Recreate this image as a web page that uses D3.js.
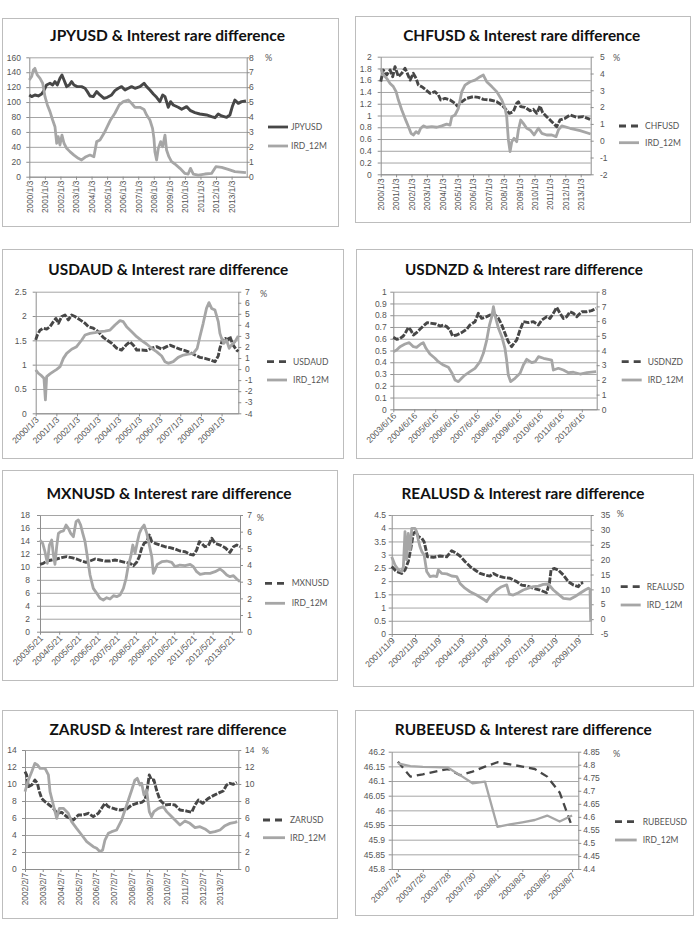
<!DOCTYPE html>
<html>
<head>
<meta charset="utf-8">
<script src="https://cdn.jsdelivr.net/npm/d3@7"></script>
<style>
  body { margin: 0; background: #fff; }
  svg { display: block; font-family: Lato, "Open Sans", sans-serif; }
</style>
</head>
<body>
<svg id="chart" width="697" height="926"></svg>
<script>
// ---- values: [fractional year, value] ----
const jpyusd = [[2000.00,109.5],[2000.15,107.3],[2000.36,109.5],[2000.58,108.2],[2000.79,110.9],[2000.96,116.2],[2001.11,122.9],[2001.33,125.2],[2001.50,122.9],[2001.65,127.4],[2001.80,122.9],[2001.97,131.9],[2002.10,136.3],[2002.23,129.6],[2002.40,120.7],[2002.57,122.9],[2002.72,127.4],[2002.87,122.9],[2003.08,120.7],[2003.36,120.7],[2003.58,118.5],[2003.73,114.0],[2003.90,108.2],[2004.11,107.3],[2004.33,114.0],[2004.54,109.5],[2004.80,105.0],[2005.01,106.4],[2005.29,109.5],[2005.50,115.3],[2005.72,118.5],[2005.93,120.7],[2006.15,116.2],[2006.36,118.5],[2006.57,120.7],[2006.79,118.5],[2007.11,120.7],[2007.37,125.2],[2007.54,120.7],[2007.75,116.2],[2007.97,110.9],[2008.18,106.4],[2008.39,100.6],[2008.57,109.5],[2008.72,107.3],[2008.93,93.0],[2009.08,100.6],[2009.25,96.1],[2009.57,93.0],[2009.79,90.3],[2010.11,93.9],[2010.36,88.5],[2010.64,85.8],[2010.96,84.0],[2011.39,82.7],[2011.71,80.5],[2011.93,79.1],[2012.14,84.0],[2012.36,81.4],[2012.68,79.6],[2012.89,82.7],[2013.06,94.8],[2013.21,102.8],[2013.43,98.3],[2013.64,100.6],[2013.92,101.5]];
const jpyIrd = [[2000.00,6.48],[2000.15,6.71],[2000.26,7.15],[2000.36,7.26],[2000.51,6.82],[2000.69,6.59],[2000.86,6.26],[2001.01,5.36],[2001.16,4.81],[2001.33,4.36],[2001.50,3.80],[2001.65,3.35],[2001.76,2.24],[2001.86,2.68],[2001.97,2.12],[2002.10,2.79],[2002.23,2.24],[2002.40,1.90],[2002.61,1.68],[2002.87,1.45],[2003.15,1.23],[2003.36,1.12],[2003.64,1.34],[2003.90,1.45],[2004.15,1.34],[2004.33,2.35],[2004.54,2.46],[2004.80,2.91],[2005.01,3.35],[2005.22,3.80],[2005.50,4.25],[2005.78,4.81],[2006.04,5.03],[2006.36,5.14],[2006.57,4.92],[2006.79,4.65],[2007.11,4.65],[2007.37,4.51],[2007.54,4.13],[2007.75,3.80],[2007.92,3.24],[2008.01,2.57],[2008.07,1.68],[2008.18,1.12],[2008.29,1.90],[2008.44,2.35],[2008.57,2.01],[2008.72,2.79],[2008.82,1.79],[2008.97,1.34],[2009.14,1.01],[2009.36,0.85],[2009.68,0.56],[2010.00,0.22],[2010.21,0.18],[2010.36,0.56],[2010.54,0.18],[2010.86,0.11],[2011.28,0.18],[2011.71,0.22],[2011.99,0.67],[2012.36,0.63],[2012.78,0.49],[2013.21,0.34],[2013.92,0.27]];

const chfusd = [[2000.00,1.575],[2000.17,1.773],[2000.39,1.688],[2000.61,1.773],[2000.78,1.660],[2000.93,1.830],[2001.15,1.660],[2001.37,1.717],[2001.58,1.802],[2001.73,1.717],[2001.91,1.603],[2002.12,1.717],[2002.30,1.632],[2002.45,1.518],[2002.67,1.490],[2002.95,1.433],[2003.21,1.377],[2003.53,1.405],[2003.75,1.349],[2003.90,1.264],[2004.18,1.292],[2004.51,1.264],[2004.83,1.207],[2004.98,1.162],[2005.27,1.235],[2005.59,1.292],[2006.02,1.320],[2006.35,1.309],[2006.67,1.275],[2007.11,1.264],[2007.54,1.235],[2007.87,1.179],[2008.08,1.122],[2008.36,1.037],[2008.62,1.065],[2008.84,1.207],[2008.95,1.235],[2009.10,1.150],[2009.38,1.139],[2009.71,1.082],[2009.92,1.105],[2010.14,1.037],[2010.36,1.162],[2010.53,1.048],[2010.79,0.980],[2011.12,0.895],[2011.44,0.810],[2011.66,0.924],[2011.98,0.952],[2012.31,1.009],[2012.74,0.969],[2013.17,0.980],[2013.61,0.935]];
const chfIrd = [[2000.00,4.31],[2000.17,3.91],[2000.39,3.71],[2000.61,3.41],[2000.82,3.22],[2001.00,2.92],[2001.15,2.42],[2001.37,1.83],[2001.58,1.33],[2001.80,0.84],[2001.97,0.44],[2002.12,0.34],[2002.30,0.54],[2002.45,0.44],[2002.60,0.74],[2002.77,0.88],[2002.99,0.80],[2003.32,0.84],[2003.64,0.80],[2003.97,0.88],[2004.29,0.99],[2004.51,0.93],[2004.62,1.43],[2004.83,1.53],[2005.05,1.93],[2005.27,2.92],[2005.48,3.31],[2005.81,3.51],[2006.13,3.61],[2006.46,3.81],[2006.67,3.91],[2006.89,3.51],[2007.22,3.22],[2007.54,2.92],[2007.87,2.42],[2008.08,1.93],[2008.19,1.43],[2008.30,0.04],[2008.41,-0.65],[2008.52,-0.06],[2008.67,0.14],[2008.84,-0.06],[2008.95,0.64],[2009.10,1.23],[2009.27,1.03],[2009.49,0.74],[2009.71,0.64],[2009.97,0.34],[2010.25,0.74],[2010.47,0.44],[2010.79,0.34],[2011.12,0.34],[2011.40,0.24],[2011.55,0.64],[2011.77,0.88],[2012.31,0.74],[2012.96,0.60],[2013.65,0.40]];

const usdaud = [[2000.00,1.51],[2000.08,1.61],[2000.21,1.71],[2000.37,1.75],[2000.53,1.73],[2000.69,1.78],[2000.85,1.88],[2000.98,1.95],[2001.10,1.85],[2001.26,1.99],[2001.42,2.02],[2001.58,1.92],[2001.74,2.02],[2001.90,1.99],[2002.15,1.92],[2002.39,1.85],[2002.55,1.78],[2002.79,1.75],[2003.03,1.68],[2003.27,1.56],[2003.44,1.51],[2003.68,1.44],[2003.92,1.34],[2004.16,1.30],[2004.37,1.40],[2004.56,1.47],[2004.73,1.40],[2004.89,1.30],[2005.13,1.30],[2005.37,1.29],[2005.61,1.34],[2005.85,1.37],[2006.10,1.32],[2006.34,1.37],[2006.50,1.40],[2006.74,1.36],[2006.98,1.32],[2007.23,1.29],[2007.47,1.25],[2007.71,1.20],[2007.95,1.15],[2008.19,1.13],[2008.44,1.10],[2008.68,1.06],[2008.84,1.18],[2008.92,1.34],[2009.05,1.52],[2009.16,1.54],[2009.32,1.51],[2009.40,1.58],[2009.56,1.40],[2009.73,1.30],[2009.81,1.27]];
const audIrd = [[2000.00,-0.08],[2000.13,-0.38],[2000.29,-0.62],[2000.40,-0.83],[2000.47,-2.79],[2000.53,-0.68],[2000.69,-0.44],[2000.85,-0.23],[2001.02,-0.02],[2001.18,0.22],[2001.34,0.97],[2001.50,1.42],[2001.74,1.79],[2001.98,2.03],[2002.23,2.63],[2002.39,3.08],[2002.63,3.23],[2002.87,3.29],[2003.11,3.38],[2003.35,3.44],[2003.60,3.53],[2003.84,3.99],[2004.08,4.38],[2004.24,4.29],[2004.40,3.84],[2004.65,3.38],[2004.89,2.93],[2005.13,2.57],[2005.37,2.27],[2005.61,1.88],[2005.85,1.58],[2006.10,1.18],[2006.26,0.67],[2006.42,0.52],[2006.66,0.67],[2006.90,1.06],[2007.15,1.27],[2007.39,1.36],[2007.63,1.42],[2007.82,1.88],[2007.95,2.93],[2008.11,4.14],[2008.27,5.49],[2008.39,6.01],[2008.52,5.49],[2008.68,5.34],[2008.84,4.29],[2008.92,3.23],[2009.00,2.78],[2009.11,2.33],[2009.24,2.63],[2009.37,1.88],[2009.48,2.18],[2009.65,2.48],[2009.81,2.99]];

const usdnzd = [[2003.46,0.612],[2003.62,0.595],[2003.78,0.603],[2003.94,0.623],[2004.07,0.660],[2004.18,0.697],[2004.29,0.674],[2004.42,0.632],[2004.57,0.652],[2004.73,0.680],[2004.89,0.708],[2005.08,0.737],[2005.29,0.731],[2005.50,0.725],[2005.69,0.708],[2005.85,0.717],[2006.01,0.703],[2006.17,0.674],[2006.29,0.623],[2006.49,0.632],[2006.72,0.652],[2006.96,0.680],[2007.12,0.717],[2007.36,0.745],[2007.52,0.816],[2007.68,0.773],[2007.92,0.788],[2008.08,0.802],[2008.24,0.816],[2008.48,0.773],[2008.64,0.717],[2008.79,0.646],[2008.95,0.575],[2009.11,0.533],[2009.22,0.561],[2009.35,0.589],[2009.51,0.674],[2009.67,0.745],[2009.91,0.737],[2010.15,0.745],[2010.39,0.717],[2010.55,0.759],[2010.79,0.788],[2010.94,0.773],[2011.10,0.816],[2011.26,0.867],[2011.42,0.816],[2011.58,0.773],[2011.74,0.788],[2011.90,0.830],[2012.06,0.816],[2012.22,0.788],[2012.46,0.830],[2012.70,0.830],[2012.93,0.839],[2013.14,0.858]];
const nzdIrd = [[2003.46,3.92],[2003.62,4.03],[2003.78,4.26],[2004.02,4.44],[2004.22,4.53],[2004.42,4.26],[2004.57,4.21],[2004.77,4.44],[2004.89,4.53],[2005.02,4.15],[2005.21,3.76],[2005.45,3.47],[2005.61,3.24],[2005.85,3.01],[2006.09,2.86],[2006.25,2.49],[2006.41,1.99],[2006.57,1.88],[2006.72,2.11],[2006.88,2.33],[2007.12,2.56],[2007.36,2.79],[2007.60,3.24],[2007.76,3.81],[2007.92,4.71],[2008.05,5.73],[2008.16,6.30],[2008.24,6.98],[2008.33,6.30],[2008.48,5.51],[2008.64,4.94],[2008.79,4.15],[2008.87,3.35],[2008.95,2.33],[2009.06,1.88],[2009.27,2.11],[2009.51,2.45],[2009.67,3.01],[2009.83,3.40],[2010.07,3.17],[2010.23,3.24],[2010.39,3.58],[2010.63,3.47],[2010.86,3.40],[2011.02,3.35],[2011.10,2.67],[2011.34,2.79],[2011.58,2.67],[2011.82,2.49],[2012.06,2.52],[2012.38,2.40],[2012.70,2.49],[2013.14,2.56]];

const mxnusd = [[2003.39,10.39],[2003.56,10.54],[2003.74,10.90],[2004.00,11.06],[2004.26,11.21],[2004.52,11.42],[2004.78,11.57],[2005.04,11.42],[2005.30,11.21],[2005.56,10.90],[2005.79,10.70],[2006.00,10.90],[2006.26,11.21],[2006.52,11.06],[2006.78,10.90],[2007.04,10.90],[2007.30,11.06],[2007.56,10.90],[2007.82,10.70],[2008.09,10.54],[2008.26,10.18],[2008.43,10.70],[2008.57,11.57],[2008.69,12.86],[2008.82,13.63],[2008.96,13.89],[2009.09,14.91],[2009.22,13.89],[2009.39,13.63],[2009.65,13.37],[2009.91,13.11],[2010.17,12.96],[2010.43,12.75],[2010.69,12.45],[2010.96,12.34],[2011.22,11.93],[2011.39,11.83],[2011.56,12.60],[2011.70,13.89],[2011.82,13.63],[2011.99,13.11],[2012.17,13.27],[2012.35,14.40],[2012.52,13.63],[2012.78,13.37],[2013.04,12.96],[2013.30,12.24],[2013.48,13.11],[2013.65,13.37],[2013.82,13.11]];
const mxnIrd = [[2003.39,5.50],[2003.53,5.30],[2003.65,4.80],[2003.77,4.10],[2003.88,5.20],[2004.00,5.50],[2004.09,4.60],[2004.17,4.04],[2004.26,5.10],[2004.35,5.90],[2004.47,6.00],[2004.61,6.04],[2004.75,6.40],[2004.87,6.20],[2004.99,5.90],[2005.13,5.70],[2005.27,6.60],[2005.39,6.70],[2005.51,6.40],[2005.62,5.90],[2005.74,5.40],[2005.86,4.50],[2006.00,3.40],[2006.17,2.60],[2006.35,2.30],[2006.52,2.00],[2006.69,1.90],[2006.87,2.04],[2007.04,1.96],[2007.22,2.16],[2007.39,2.10],[2007.56,2.20],[2007.74,2.60],[2007.88,3.20],[2008.00,4.00],[2008.12,4.50],[2008.23,5.20],[2008.35,4.70],[2008.47,5.40],[2008.57,5.90],[2008.69,6.20],[2008.82,6.40],[2008.96,5.90],[2009.09,5.20],[2009.22,4.50],[2009.30,3.50],[2009.39,3.70],[2009.51,4.04],[2009.74,4.20],[2010.00,4.24],[2010.26,4.16],[2010.43,3.90],[2010.69,4.00],[2010.96,3.96],[2011.22,4.04],[2011.39,3.90],[2011.56,3.60],[2011.74,3.44],[2012.00,3.50],[2012.26,3.50],[2012.52,3.60],[2012.78,3.76],[2012.96,3.60],[2013.13,3.40],[2013.30,3.30],[2013.48,3.36],[2013.65,3.16],[2013.82,3.00]];

const realusd = [[2001.86,2.55],[2002.07,2.36],[2002.29,2.29],[2002.43,2.42],[2002.57,2.74],[2002.67,3.18],[2002.79,3.81],[2002.90,3.87],[2003.00,3.68],[2003.15,3.62],[2003.25,3.49],[2003.33,3.18],[2003.39,2.92],[2003.65,2.90],[2003.93,2.95],[2004.22,2.92],[2004.43,3.15],[2004.57,3.08],[2004.79,2.95],[2005.00,2.74],[2005.22,2.55],[2005.43,2.42],[2005.65,2.29],[2005.86,2.23],[2006.07,2.19],[2006.22,2.29],[2006.43,2.19],[2006.65,2.14],[2006.93,2.11],[2007.22,1.98],[2007.43,1.85],[2007.65,1.82],[2007.93,1.73],[2008.22,1.66],[2008.50,1.56],[2008.62,1.92],[2008.69,2.42],[2008.82,2.48],[2009.00,2.42],[2009.22,2.23],[2009.43,1.98],[2009.65,1.85],[2009.86,1.79],[2009.96,1.92],[2010.07,1.94]];
const realIrd = [[2001.86,21.0],[2002.00,18.2],[2002.15,16.5],[2002.29,16.0],[2002.36,17.6],[2002.43,29.4],[2002.50,19.9],[2002.57,28.8],[2002.65,23.2],[2002.72,30.5],[2002.86,30.5],[2002.93,29.4],[2003.00,26.6],[2003.07,24.4],[2003.15,22.7],[2003.25,21.6],[2003.36,16.0],[2003.50,14.3],[2003.65,14.5],[2003.79,14.3],[2003.86,16.5],[2004.00,15.4],[2004.22,15.2],[2004.43,14.5],[2004.65,14.3],[2004.79,12.0],[2005.00,10.4],[2005.22,9.2],[2005.50,8.1],[2005.79,6.7],[2005.93,5.9],[2006.07,7.6],[2006.36,9.8],[2006.57,10.9],[2006.79,11.5],[2006.90,8.4],[2007.07,8.1],[2007.29,8.9],[2007.50,9.8],[2007.72,10.4],[2007.93,10.9],[2008.15,11.1],[2008.36,11.7],[2008.57,11.8],[2008.79,9.8],[2009.00,8.4],[2009.22,7.0],[2009.50,6.7],[2009.72,7.6],[2009.93,8.7],[2010.15,9.8],[2010.29,10.4],[2010.36,10.0],[2010.39,-0.8]];

const zarusd = [[2002.10,11.45],[2002.19,11.06],[2002.29,9.69],[2002.48,9.88],[2002.66,10.47],[2002.80,10.08],[2002.91,9.10],[2003.04,8.31],[2003.23,7.92],[2003.47,7.53],[2003.70,7.14],[2003.92,6.55],[2004.17,6.67],[2004.45,6.16],[2004.83,5.76],[2005.11,6.35],[2005.39,6.35],[2005.67,6.55],[2005.95,6.16],[2006.24,6.55],[2006.42,7.14],[2006.61,7.73],[2006.80,7.33],[2007.18,7.06],[2007.46,6.94],[2007.83,7.06],[2008.12,7.53],[2008.40,7.73],[2008.68,7.84],[2008.87,8.12],[2009.00,9.49],[2009.11,11.06],[2009.24,10.47],[2009.37,10.47],[2009.52,9.29],[2009.71,8.12],[2009.99,7.53],[2010.28,7.61],[2010.56,7.53],[2010.84,6.94],[2011.22,6.82],[2011.50,6.67],[2011.69,7.53],[2011.88,8.12],[2012.12,7.73],[2012.44,8.31],[2012.72,8.63],[2013.10,9.02],[2013.28,9.18],[2013.47,9.88],[2013.66,10.08],[2013.85,9.96],[2014.04,10.20]];
const zarIrd = [[2002.10,9.10],[2002.29,10.47],[2002.48,11.45],[2002.66,12.43],[2002.80,12.24],[2002.95,11.84],[2003.23,11.84],[2003.42,11.06],[2003.51,9.10],[2003.70,7.53],[2003.89,5.96],[2004.04,7.14],[2004.26,7.14],[2004.54,6.55],[2004.73,5.57],[2005.01,4.78],[2005.30,4.00],[2005.58,3.22],[2005.95,2.63],[2006.14,2.43],[2006.33,2.04],[2006.48,2.24],[2006.61,3.41],[2006.80,4.20],[2006.99,4.39],[2007.27,4.59],[2007.55,5.76],[2007.74,6.94],[2007.93,8.12],[2008.12,9.29],[2008.30,10.47],[2008.43,10.67],[2008.58,9.88],[2008.68,10.08],[2008.81,8.71],[2008.96,9.29],[2009.11,6.75],[2009.24,6.16],[2009.37,6.75],[2009.62,7.14],[2009.90,7.33],[2010.09,6.75],[2010.28,6.35],[2010.56,5.76],[2010.84,5.18],[2011.12,5.65],[2011.40,5.37],[2011.69,4.86],[2011.97,4.98],[2012.25,4.71],[2012.53,4.27],[2012.81,4.39],[2013.10,4.59],[2013.38,5.10],[2013.66,5.37],[2013.94,5.49],[2014.07,5.57]];

// RUBEEUSD is daily, on a category axis
const rubDates = ["2003/7/24","2003/7/25","2003/7/26","2003/7/27","2003/7/28","2003/7/29","2003/7/30","2003/7/31","2003/8/1","2003/8/2","2003/8/3","2003/8/4","2003/8/5","2003/8/6","2003/8/7"];
const rubeeusd = [46.166,46.115,46.123,46.132,46.141,46.120,46.132,46.149,46.164,46.157,46.149,46.141,46.115,46.061,45.944];
const rubIrd = [4.805,4.795,4.792,4.791,4.789,4.760,4.729,4.735,4.562,4.571,4.579,4.588,4.605,4.582,4.605];

// ---- tick labels ----
const jpyLabels = d3.range(2000, 2014).map(y => y + "/1/3");
const chfLabels = d3.range(2000, 2014).map(y => y + "/1/3");
const audLabels = d3.range(2000, 2010).map(y => y + "/1/3");
const nzdLabels = d3.range(2003, 2013).map(y => y + "/6/16");
const mxnLabels = d3.range(2003, 2014).map(y => y + "/5/21");
const realLabels = d3.range(2001, 2010).map(y => y + "/11/9");
const zarLabels = d3.range(2002, 2014).map(y => y + "/2/7");
const rubLabels = rubDates.filter((d, i) => i % 2 === 0);

const svg = d3.select("#chart");
const fxColor = "#474747", irdColor = "#a6a6a6", gridColor = "#8e8e8e", textColor = "#555";

function ticks([a, b, s]) {
  const n = Math.round((b - a) / s);
  return d3.range(n + 1).map(i => +(a + i * s).toFixed(4));
}
const fmt = v => String(+v.toFixed(2));

const panels = [
  {name: "JPYUSD", fx: jpyusd, ird: jpyIrd, dashed: false,
   frame: [2, 18, 338, 226], title: [167.5, 40.5, 235], plot: [29.3, 57.3, 246.7, 176.7],
   xDomain: [2000, 2013.97], xStart: 2000, labels: jpyLabels, rot: -90,
   left: [0, 160, 20], right: [0, 8, 1], leftEnd: 21, rightStart: 249,
   legend: [268, 288, 127, 146, 291], pct: [265, 61]},
  {name: "CHFUSD", fx: chfusd, ird: chfIrd, dashed: true,
   frame: [355, 16, 690, 222], title: [521.7, 40.5, 237], plot: [380.7, 56.7, 590.7, 174.3],
   xDomain: [2000, 2013.65], xStart: 2000, labels: chfLabels, rot: -90,
   left: [0, 2, 0.2], right: [-2, 5, 1], leftEnd: 371.7, rightStart: 600,
   legend: [619, 639, 126, 142.7, 645], pct: [613, 60.5]},
  {name: "USDAUD", fx: usdaud, ird: audIrd, dashed: true,
   frame: [2, 249, 343, 458], title: [168.3, 275.3, 240], plot: [35.7, 291.7, 238.3, 413.3],
   xDomain: [2000, 2009.81], xStart: 2000, labels: audLabels, rot: -45,
   left: [0, 2.5, 0.5], right: [-4, 7, 1], leftEnd: 26.7, rightStart: 245,
   legend: [267, 287, 361.7, 380, 293], pct: [260, 297]},
  {name: "USDNZD", fx: usdnzd, ird: nzdIrd, dashed: true,
   frame: [356, 249, 692, 458], title: [524, 274.5, 238], plot: [393.3, 291.7, 596.7, 409.3],
   xDomain: [2003.46, 2013.17], xStart: 2003.46, labels: nzdLabels, rot: -45,
   left: [0, 1, 0.1], right: [0, 8, 1], leftEnd: 386.7, rightStart: 601.7,
   legend: [621.7, 641.7, 361.7, 380, 647.7], pct: null},
  {name: "MXNUSD", fx: mxnusd, ird: mxnIrd, dashed: true,
   frame: [2, 470, 337, 680], title: [169, 499, 245], plot: [40, 515, 240, 631.7],
   xDomain: [2003.39, 2013.82], xStart: 2003.39, labels: mxnLabels, rot: -45,
   left: [0, 18, 2], right: [0, 7, 1], leftEnd: 30, rightStart: 247.3,
   legend: [265, 285, 583.3, 603.3, 291.7], pct: [256.7, 521]},
  {name: "REALUSD", fx: realusd, ird: realIrd, dashed: true,
   frame: [353, 474, 693, 686], title: [523, 498.5, 243], plot: [391.7, 515, 590.7, 634],
   xDomain: [2001.86, 2010.39], xStart: 2001.86, labels: realLabels, rot: -45,
   left: [0, 4.5, 0.5], right: [-5, 35, 5], leftEnd: 386, rightStart: 600.7,
   legend: [620.7, 640.7, 586.7, 605, 646.7], pct: [616.7, 517]},
  {name: "ZARUSD", fx: zarusd, ird: zarIrd, dashed: true,
   frame: [2, 710, 337, 918], title: [168, 735, 237], plot: [25, 750, 238.3, 869],
   xDomain: [2002.1, 2014.13], xStart: 2002.1, labels: zarLabels, rot: -90,
   left: [0, 14, 2], right: [0, 14, 2], leftEnd: 16.7, rightStart: 245,
   legend: [263, 285, 820, 837.7, 290], pct: [261.7, 754]},
  {name: "RUBEEUSD", fx: d3.zip(rubDates, rubeeusd), ird: d3.zip(rubDates, rubIrd), dashed: true,
   frame: [355, 710, 693, 915], title: [523.3, 735, 257], plot: [391.7, 751.7, 578.3, 869],
   cats: rubDates, labels: rubLabels, rot: -45,
   left: [45.8, 46.2, 0.05], right: [4.4, 4.85, 0.05], leftEnd: 385, rightStart: 583.3,
   legend: [615, 636.7, 821.7, 840, 642.7], pct: [613, 757]}
];

function drawPanel(p) {
  const g = svg.append("g");
  const [fx0, fy0, fx1, fy1] = p.frame;
  g.append("rect")
    .attr("x", fx0 + 0.5).attr("y", fy0 + 0.5)
    .attr("width", fx1 - fx0).attr("height", fy1 - fy0)
    .attr("fill", "#fff").attr("stroke", "#bdbdbd");

  g.append("text")
    .attr("x", p.title[0]).attr("y", p.title[1])
    .attr("text-anchor", "middle")
    .attr("font-size", 15.5).attr("font-weight", "bold").attr("fill", "#111")
    .attr("textLength", p.title[2]).attr("lengthAdjust", "spacingAndGlyphs")
    .text(p.name + " & Interest rare difference");

  const [l, t, r, b] = p.plot;
  let x, tickVals;
  if (p.cats) {
    x = d3.scalePoint().domain(p.cats).range([l, r]).padding(0.5);
    tickVals = p.labels;
  } else {
    x = d3.scaleLinear().domain(p.xDomain).range([l, r]);
    tickVals = p.labels.map((s, i) => p.xStart + i);
  }
  const yL = d3.scaleLinear().domain([p.left[0], p.left[1]]).range([b, t]);
  const yR = d3.scaleLinear().domain([p.right[0], p.right[1]]).range([b, t]);

  // gridlines on the primary axis ticks
  g.append("g")
    .attr("transform", `translate(${l},0)`)
    .call(d3.axisLeft(yL).tickValues(ticks(p.left)).tickSize(-(r - l)).tickFormat(""))
    .call(s => s.select(".domain").remove())
    .selectAll("line").attr("stroke", gridColor).attr("stroke-width", 0.8);

  // left axis
  g.append("g")
    .attr("transform", `translate(${l},0)`)
    .attr("color", gridColor)
    .call(d3.axisLeft(yL).tickValues(ticks(p.left)).tickSize(3).tickSizeOuter(0)
      .tickPadding(l - p.leftEnd - 3).tickFormat(fmt))
    .call(s => s.selectAll("text").attr("fill", textColor).attr("font-size", 8.5));

  // right axis
  g.append("g")
    .attr("transform", `translate(${r},0)`)
    .attr("color", gridColor)
    .call(d3.axisRight(yR).tickValues(ticks(p.right)).tickSize(3).tickSizeOuter(0)
      .tickPadding(p.rightStart - r - 3).tickFormat(fmt))
    .call(s => s.selectAll("text").attr("fill", textColor).attr("font-size", 8.5));

  // bottom axis
  const xa = g.append("g")
    .attr("transform", `translate(0,${b})`)
    .attr("color", gridColor)
    .call(d3.axisBottom(x).tickValues(tickVals).tickSize(3).tickSizeOuter(0)
      .tickFormat((d, i) => p.labels[i]));
  xa.selectAll("text")
    .attr("fill", textColor).attr("font-size", p.rot === -90 ? 8.3 : 8.6)
    .attr("x", 0).attr("y", 0).attr("dy", "0.35em")
    .attr("text-anchor", "end")
    .attr("transform", p.rot === -90 ? "translate(0,4) rotate(-90)" : "translate(1,5) rotate(-45)");

  if (p.pct) {
    g.append("text").attr("x", p.pct[0]).attr("y", p.pct[1])
      .attr("font-size", 9).attr("fill", textColor).text("%");
  }

  // series: FX on primary axis, interest difference on secondary axis
  const fxLine = d3.line().x(d => x(d[0])).y(d => yL(d[1]));
  const irdLine = d3.line().x(d => x(d[0])).y(d => yR(d[1]));
  g.append("path").datum(p.fx)
    .attr("d", fxLine).attr("fill", "none")
    .attr("stroke", fxColor).attr("stroke-width", p.cats ? 2.3 : 2.9)
    .attr("stroke-linejoin", "round")
    .attr("stroke-dasharray", p.dashed ? (p.cats ? "8,5" : "6,1.5") : null);
  g.append("path").datum(p.ird)
    .attr("d", irdLine).attr("fill", "none")
    .attr("stroke", irdColor).attr("stroke-width", p.cats ? 2.3 : 2.8)
    .attr("stroke-linejoin", "round");

  // legend
  const [lx0, lx1, ly0, ly1, tx] = p.legend;
  g.append("line").attr("x1", lx0).attr("x2", lx1).attr("y1", ly0).attr("y2", ly0)
    .attr("stroke", fxColor).attr("stroke-width", 2.8)
    .attr("stroke-dasharray", p.dashed ? "7,5" : null);
  g.append("line").attr("x1", lx0).attr("x2", lx1).attr("y1", ly1).attr("y2", ly1)
    .attr("stroke", irdColor).attr("stroke-width", 2.8);
  g.append("text").attr("x", tx).attr("y", ly0).attr("dy", "0.35em")
    .attr("font-size", 8.5).attr("fill", textColor).text(p.name);
  g.append("text").attr("x", tx).attr("y", ly1).attr("dy", "0.35em")
    .attr("font-size", 8.5).attr("fill", textColor).text("IRD_12M");
}

panels.forEach(drawPanel);
</script>
</body>
</html>
